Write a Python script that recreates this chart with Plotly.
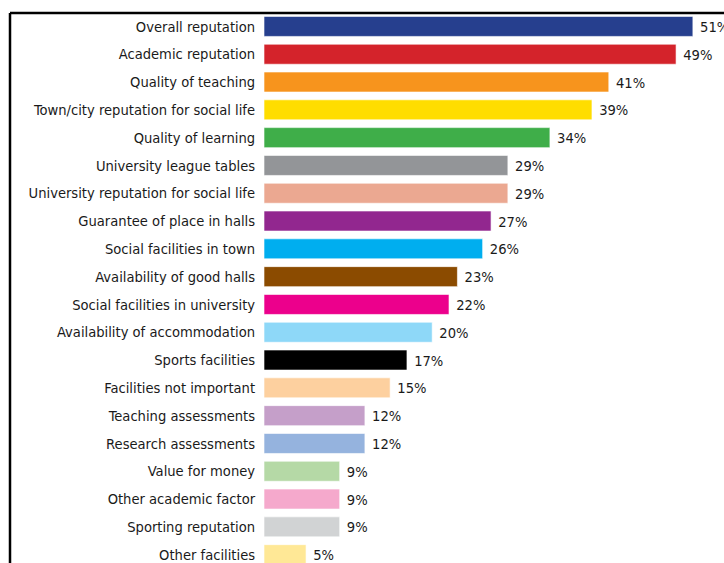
import plotly.graph_objects as go

# Survey factors and share of respondents (%)
factors = [
    "Overall reputation",
    "Academic reputation",
    "Quality of teaching",
    "Town/city reputation for social life",
    "Quality of learning",
    "University league tables",
    "University reputation for social life",
    "Guarantee of place in halls",
    "Social facilities in town",
    "Availability of good halls",
    "Social facilities in university",
    "Availability of accommodation",
    "Sports facilities",
    "Facilities not important",
    "Teaching assessments",
    "Research assessments",
    "Value for money",
    "Other academic factor",
    "Sporting reputation",
    "Other facilities",
]
shares = [51, 49, 41, 39, 34, 29, 29, 27, 26, 23, 22, 20, 17, 15, 12, 12, 9, 9, 9, 5]
bar_colors = [
    "#263F8E", "#D4232B", "#F7941D", "#FFDD00", "#3FAE49",
    "#939598", "#EBA891", "#92278F", "#00AEEF", "#8B4B00",
    "#EC008C", "#8ED8F8", "#000000", "#FDD09F", "#C59FC9",
    "#95B3DE", "#B5D9A6", "#F5A9CC", "#D1D3D4", "#FFE896",
]

FONT = "DejaVu Sans Condensed, Liberation Sans, sans-serif"

fig = go.Figure(
    go.Bar(
        x=shares,
        y=factors,
        orientation="h",
        marker=dict(color=bar_colors, line=dict(color="rgba(255,255,255,0.6)", width=1)),
        width=0.72,
        text=[f" {v}%" for v in shares],
        textposition="outside",
        cliponaxis=False,
        textfont=dict(family=FONT, size=14.6, color="#1a1a1a"),
    )
)

W, H = 724, 563
left = 264
fig.update_layout(
    width=W,
    height=H,
    margin=dict(l=left, r=0, t=0, b=0),
    paper_bgcolor="white",
    plot_bgcolor="white",
    showlegend=False,
    xaxis=dict(range=[0, 54.7], visible=False, fixedrange=True),
    yaxis=dict(
        type="category",
        categoryorder="array",
        categoryarray=factors,
        range=[19.3, -0.95],
        showgrid=False,
        zeroline=False,
        showline=False,
        ticks="outside",
        ticklen=5,
        tickcolor="rgba(0,0,0,0)",
        tickfont=dict(family=FONT, size=14.6, color="#1a1a1a"),
        automargin=False,
    ),
)

# Frame line along the top and left edge
fx = (10 - left) / (W - left)
fy = 1 - 13 / H
fig.add_shape(type="line", xref="paper", yref="paper", x0=fx, x1=1.2, y0=fy, y1=fy,
              line=dict(color="black", width=2.5))
fig.add_shape(type="line", xref="paper", yref="paper", x0=fx, x1=fx, y0=fy, y1=-0.2,
              line=dict(color="black", width=2.5))

fig.write_html("out.html")
